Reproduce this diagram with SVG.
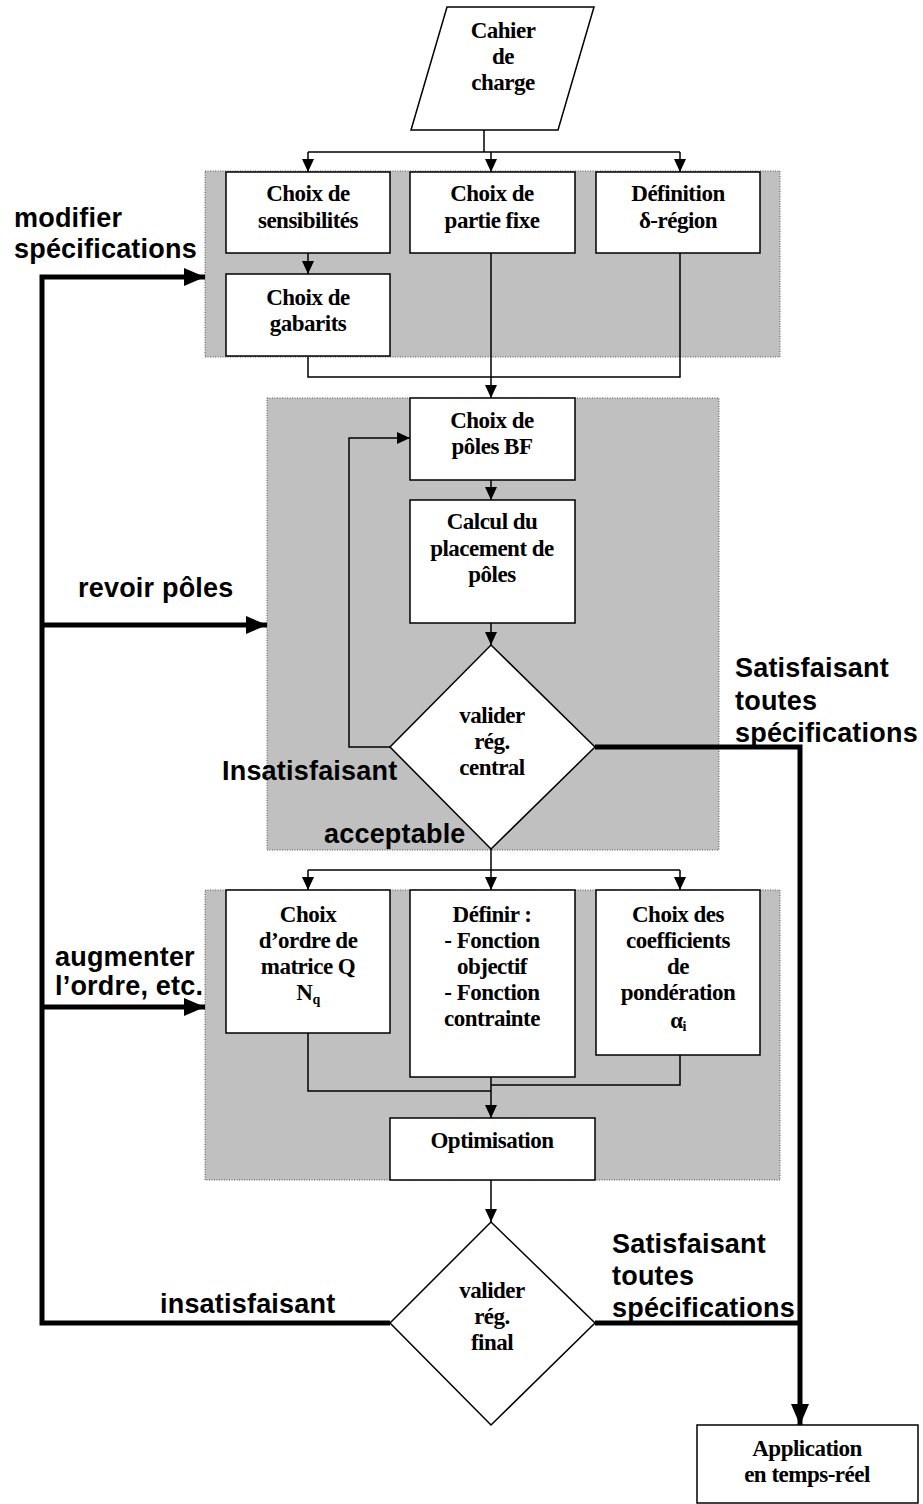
<svg xmlns="http://www.w3.org/2000/svg" width="923" height="1504" viewBox="0 0 923 1504">
<style>
.bg{fill:#fff}
.region{fill:#c0c0c0;stroke:#555;stroke-width:1;stroke-dasharray:1 1.5}
.box{fill:#fff;stroke:#000;stroke-width:1.5}
.t{font-family:"Liberation Serif","Times New Roman",serif;font-weight:bold;font-size:23px;text-anchor:middle;fill:#000;letter-spacing:-0.5px}
.s{font-family:"Liberation Sans",Arial,sans-serif;font-weight:bold;font-size:27px;fill:#000;letter-spacing:0.2px}
.thin{fill:none;stroke:#000;stroke-width:1.5}
.thick{fill:none;stroke:#000;stroke-width:5}
</style>
<defs>
<marker id="ah" markerUnits="userSpaceOnUse" markerWidth="14" markerHeight="14" viewBox="0 0 14 14" refX="13" refY="7" orient="auto"><path d="M0,1 L13,7 L0,13 Z" fill="#000"/></marker>
<marker id="ahb" markerUnits="userSpaceOnUse" markerWidth="22" markerHeight="20" viewBox="0 0 22 20" refX="21" refY="10" orient="auto"><path d="M0,1 L21,10 L0,19 Z" fill="#000"/></marker>
</defs>
<rect class="bg" x="0" y="0" width="923" height="1504"/>
<g id="regions">
<rect class="region" x="205" y="171" width="575" height="186"/>
<rect class="region" x="267" y="398" width="452" height="452"/>
<rect class="region" x="205" y="890" width="575" height="290"/>
</g>
<g id="connectors">
<path class="thin" d="M484,130 V152"/>
<path class="thin" d="M308,152 H680"/>
<path class="thin" d="M308,152 V172" marker-end="url(#ah)"/>
<path class="thin" d="M491,152 V172" marker-end="url(#ah)"/>
<path class="thin" d="M680,152 V172" marker-end="url(#ah)"/>
<path class="thin" d="M308,253 V274" marker-end="url(#ah)"/>
<path class="thin" d="M308,357 V377 H680 V253"/>
<path class="thin" d="M491,253 V398" marker-end="url(#ah)"/>
<path class="thin" d="M491,480 V500" marker-end="url(#ah)"/>
<path class="thin" d="M491,623 V645" marker-end="url(#ah)"/>
<path class="thin" d="M390,747 H349 V438 H410" marker-end="url(#ah)"/>
<path class="thin" d="M491,849 V870"/>
<path class="thin" d="M308,870 H680"/>
<path class="thin" d="M308,870 V890" marker-end="url(#ah)"/>
<path class="thin" d="M491,870 V890" marker-end="url(#ah)"/>
<path class="thin" d="M680,870 V890" marker-end="url(#ah)"/>
<path class="thin" d="M308,1033 V1091 H491"/>
<path class="thin" d="M680,1055 V1085 H491"/>
<path class="thin" d="M491,1077 V1118" marker-end="url(#ah)"/>
<path class="thin" d="M491,1180 V1222" marker-end="url(#ah)"/>
<path class="thick" d="M595,747 H800 V1425" marker-end="url(#ahb)"/>
<path class="thick" d="M595,1323 H800"/>
<path class="thick" d="M390,1323 H42 V277 H205" marker-end="url(#ahb)"/>
<path class="thick" d="M42,625 H267" marker-end="url(#ahb)"/>
<path class="thick" d="M42,1007 H205" marker-end="url(#ahb)"/>
</g>
<g id="cahier">
<polygon class="box" points="447,7 594,7 558,130 411,130"/>
<text class="t" x="503" y="38">Cahier</text>
<text class="t" x="503" y="64">de</text>
<text class="t" x="503" y="90">charge</text>
</g>
<g id="sensibilites">
<rect class="box" x="226" y="172" width="164" height="81"/>
<text class="t" x="308" y="201">Choix de</text>
<text class="t" x="308" y="228">sensibilités</text>
</g>
<g id="partie-fixe">
<rect class="box" x="410" y="172" width="165" height="81"/>
<text class="t" x="492" y="201">Choix de</text>
<text class="t" x="492" y="228">partie fixe</text>
</g>
<g id="delta-region">
<rect class="box" x="596" y="172" width="164" height="81"/>
<text class="t" x="678" y="201">Définition</text>
<text class="t" x="678" y="228">δ-région</text>
</g>
<g id="gabarits">
<rect class="box" x="226" y="274" width="164" height="82"/>
<text class="t" x="308" y="305">Choix de</text>
<text class="t" x="308" y="331">gabarits</text>
</g>
<g id="poles-bf">
<rect class="box" x="410" y="398" width="165" height="82"/>
<text class="t" x="492" y="428">Choix de</text>
<text class="t" x="492" y="454">pôles BF</text>
</g>
<g id="calcul">
<rect class="box" x="410" y="500" width="165" height="123"/>
<text class="t" x="492" y="529">Calcul du</text>
<text class="t" x="492" y="556">placement de</text>
<text class="t" x="492" y="582">pôles</text>
</g>
<g id="valider-central">
<polygon class="box" points="491,645 595,747 491,849 390,747"/>
<text class="t" x="492" y="723">valider</text>
<text class="t" x="492" y="749">rég.</text>
<text class="t" x="492" y="775">central</text>
</g>
<g id="ordre">
<rect class="box" x="226" y="890" width="164" height="143"/>
<text class="t" x="308" y="922">Choix</text>
<text class="t" x="308" y="948">d’ordre de</text>
<text class="t" x="308" y="974">matrice Q</text>
<text class="t" x="308" y="1000">N<tspan font-size="14" dy="4">q</tspan></text>
</g>
<g id="definir">
<rect class="box" x="410" y="890" width="165" height="187"/>
<text class="t" x="492" y="922">Définir :</text>
<text class="t" x="492" y="948">- Fonction</text>
<text class="t" x="492" y="974">objectif</text>
<text class="t" x="492" y="1000">- Fonction</text>
<text class="t" x="492" y="1026">contrainte</text>
</g>
<g id="coefficients">
<rect class="box" x="596" y="890" width="164" height="165"/>
<text class="t" x="678" y="922">Choix des</text>
<text class="t" x="678" y="948">coefficients</text>
<text class="t" x="678" y="974">de</text>
<text class="t" x="678" y="1000">pondération</text>
<text class="t" x="678" y="1028">α<tspan font-size="14" dy="3">i</tspan></text>
</g>
<g id="optimisation">
<rect class="box" x="390" y="1118" width="205" height="62"/>
<text class="t" x="492" y="1148">Optimisation</text>
</g>
<g id="valider-final">
<polygon class="box" points="491,1222 595,1323 491,1425 390,1323"/>
<text class="t" x="492" y="1298">valider</text>
<text class="t" x="492" y="1324">rég.</text>
<text class="t" x="492" y="1350">final</text>
</g>
<g id="application">
<rect class="box" x="697" y="1425" width="221" height="78"/>
<text class="t" x="807" y="1456">Application</text>
<text class="t" x="807" y="1482">en temps-réel</text>
</g>
<g id="labels">
<text class="s" x="14" y="227">modifier</text>
<text class="s" x="14" y="258">spécifications</text>
<text class="s" x="78" y="597">revoir pôles</text>
<text class="s" x="735" y="677">Satisfaisant</text>
<text class="s" x="735" y="710">toutes</text>
<text class="s" x="735" y="742">spécifications</text>
<text class="s" x="222" y="780">Insatisfaisant</text>
<text class="s" x="324" y="843">acceptable</text>
<text class="s" x="55" y="966">augmenter</text>
<text class="s" x="55" y="995">l’ordre, etc.</text>
<text class="s" x="160" y="1313">insatisfaisant</text>
<text class="s" x="612" y="1253">Satisfaisant</text>
<text class="s" x="612" y="1285">toutes</text>
<text class="s" x="612" y="1317">spécifications</text>
</g>
</svg>
